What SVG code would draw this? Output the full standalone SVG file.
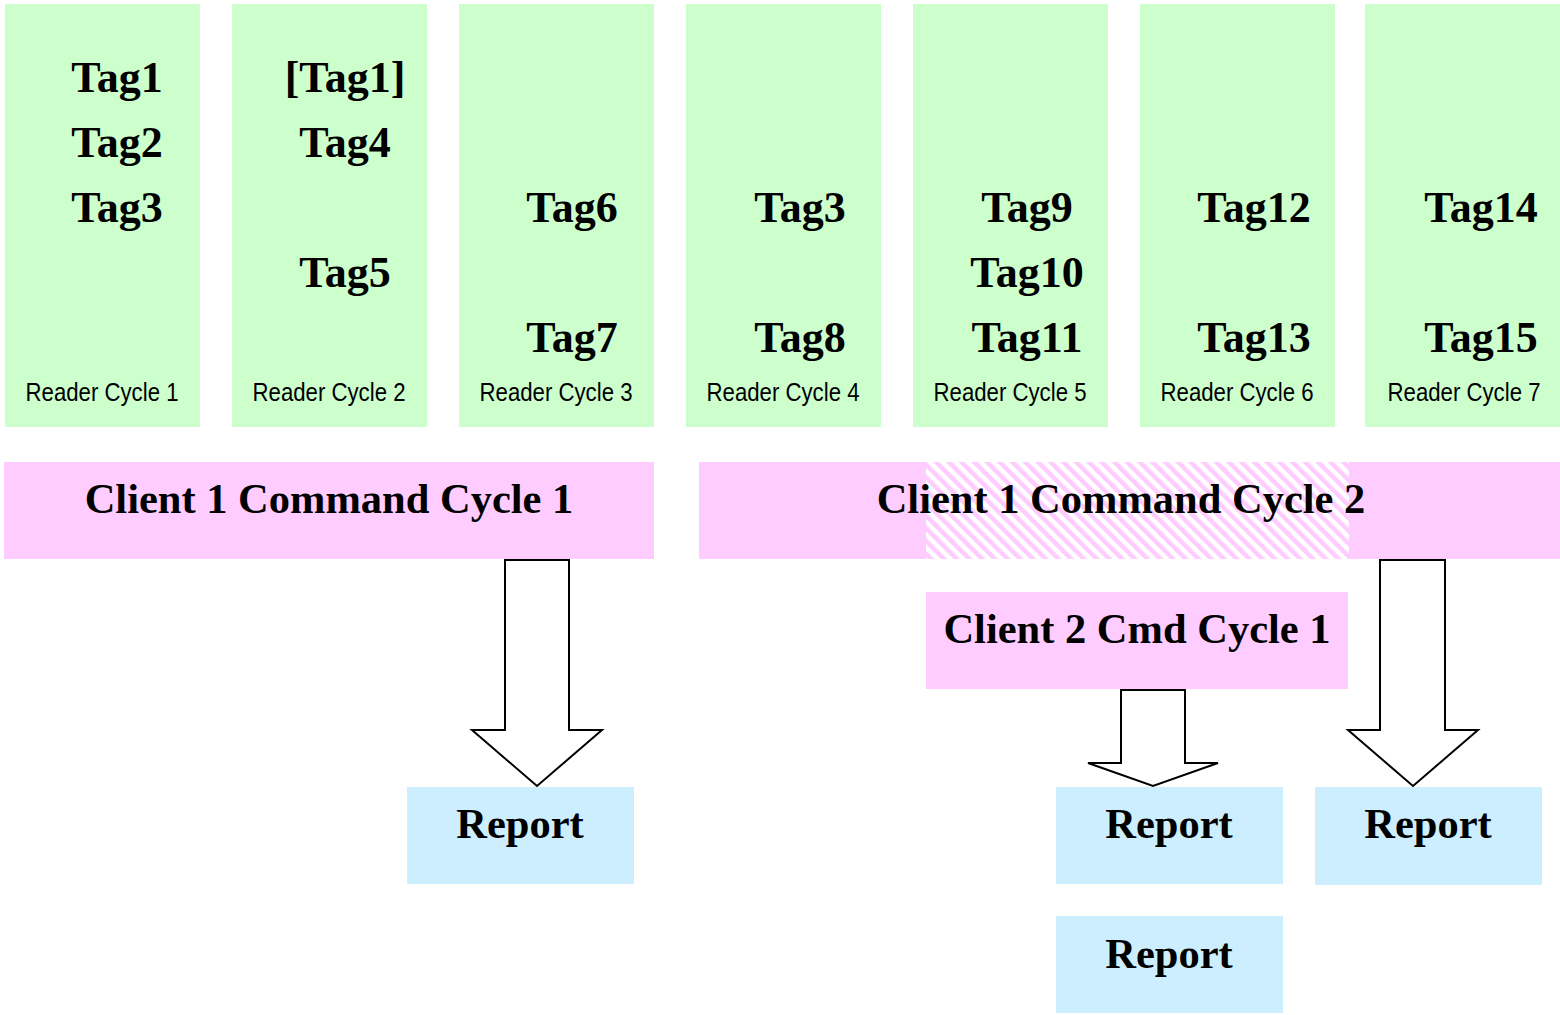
<svg xmlns="http://www.w3.org/2000/svg" width="1560" height="1015" viewBox="0 0 1560 1015">
<defs>
<pattern id="hatch" patternUnits="userSpaceOnUse" width="9" height="9" patternTransform="rotate(-45)">
<rect width="9" height="9" fill="#ffffff"/>
<rect width="4.5" height="9" fill="#ffccff"/>
</pattern>
<style>
.col{fill:#ccffcc}
.bar{fill:#ffccff}
.rep{fill:#cceeff}
.tag{font-family:"Liberation Serif","Times New Roman",serif;font-weight:bold;font-size:44px;fill:#000;text-anchor:middle}
.big{font-family:"Liberation Serif","Times New Roman",serif;font-weight:bold;font-size:42.5px;fill:#000;text-anchor:middle}
.rc{font-family:"Liberation Sans",Arial,sans-serif;font-size:25px;fill:#000;text-anchor:middle}
.arrow{fill:#fff;stroke:#000;stroke-width:2;stroke-linejoin:miter}
</style>
</defs>
<g id="reader1"><rect class="col" x="5" y="4" width="195" height="423"/>
<text class="tag" x="117" y="92">Tag1</text><text class="tag" x="117" y="157">Tag2</text><text class="tag" x="117" y="222">Tag3</text>
<text class="rc" x="102" y="401" textLength="153" lengthAdjust="spacingAndGlyphs">Reader Cycle 1</text></g>
<g id="reader2"><rect class="col" x="232" y="4" width="195" height="423"/>
<text class="tag" x="345" y="92">[Tag1]</text><text class="tag" x="345" y="157">Tag4</text><text class="tag" x="345" y="287">Tag5</text>
<text class="rc" x="329" y="401" textLength="153" lengthAdjust="spacingAndGlyphs">Reader Cycle 2</text></g>
<g id="reader3"><rect class="col" x="459" y="4" width="195" height="423"/>
<text class="tag" x="572" y="222">Tag6</text><text class="tag" x="572" y="352">Tag7</text>
<text class="rc" x="556" y="401" textLength="153" lengthAdjust="spacingAndGlyphs">Reader Cycle 3</text></g>
<g id="reader4"><rect class="col" x="686" y="4" width="195" height="423"/>
<text class="tag" x="800" y="222">Tag3</text><text class="tag" x="800" y="352">Tag8</text>
<text class="rc" x="783" y="401" textLength="153" lengthAdjust="spacingAndGlyphs">Reader Cycle 4</text></g>
<g id="reader5"><rect class="col" x="913" y="4" width="195" height="423"/>
<text class="tag" x="1027" y="222">Tag9</text><text class="tag" x="1027" y="287">Tag10</text><text class="tag" x="1027" y="352">Tag11</text>
<text class="rc" x="1010" y="401" textLength="153" lengthAdjust="spacingAndGlyphs">Reader Cycle 5</text></g>
<g id="reader6"><rect class="col" x="1140" y="4" width="195" height="423"/>
<text class="tag" x="1254" y="222">Tag12</text><text class="tag" x="1254" y="352">Tag13</text>
<text class="rc" x="1237" y="401" textLength="153" lengthAdjust="spacingAndGlyphs">Reader Cycle 6</text></g>
<g id="reader7"><rect class="col" x="1365" y="4" width="195" height="423"/>
<text class="tag" x="1481" y="222">Tag14</text><text class="tag" x="1481" y="352">Tag15</text>
<text class="rc" x="1464" y="401" textLength="153" lengthAdjust="spacingAndGlyphs">Reader Cycle 7</text></g>
<g id="client1cycle1"><rect class="bar" x="4" y="462" width="650" height="97"/>
<text class="big" x="329" y="513">Client 1 Command Cycle 1</text></g>
<g id="client1cycle2"><rect class="bar" x="699" y="462" width="861" height="97"/>
<rect x="926" y="462" width="423" height="97" fill="url(#hatch)"/>
<text class="big" x="1121" y="513">Client 1 Command Cycle 2</text></g>
<g id="client2cycle1"><rect class="bar" x="926" y="592" width="422" height="97"/>
<text class="big" x="1137" y="643">Client 2 Cmd Cycle 1</text></g>
<g id="report1"><rect class="rep" x="407" y="787" width="227" height="97"/>
<text class="big" x="520" y="838">Report</text></g>
<g id="report2"><rect class="rep" x="1056" y="787" width="227" height="97"/>
<text class="big" x="1169" y="838">Report</text></g>
<g id="report3"><rect class="rep" x="1315" y="787" width="227" height="98"/>
<text class="big" x="1428" y="838">Report</text></g>
<g id="report4"><rect class="rep" x="1056" y="916" width="227" height="97"/>
<text class="big" x="1169" y="968">Report</text></g>
<g id="connectors">
<path class="arrow" d="M505,560 L569,560 L569,730 L602,730 L537,786 L472,730 L505,730 Z"/>
<path class="arrow" d="M1121,690 L1185,690 L1185,763 L1218,763 L1153,786 L1088,763 L1121,763 Z"/>
<path class="arrow" d="M1380,560 L1445,560 L1445,730 L1478,730 L1413,786 L1348,730 L1380,730 Z"/>
</g>
</svg>
